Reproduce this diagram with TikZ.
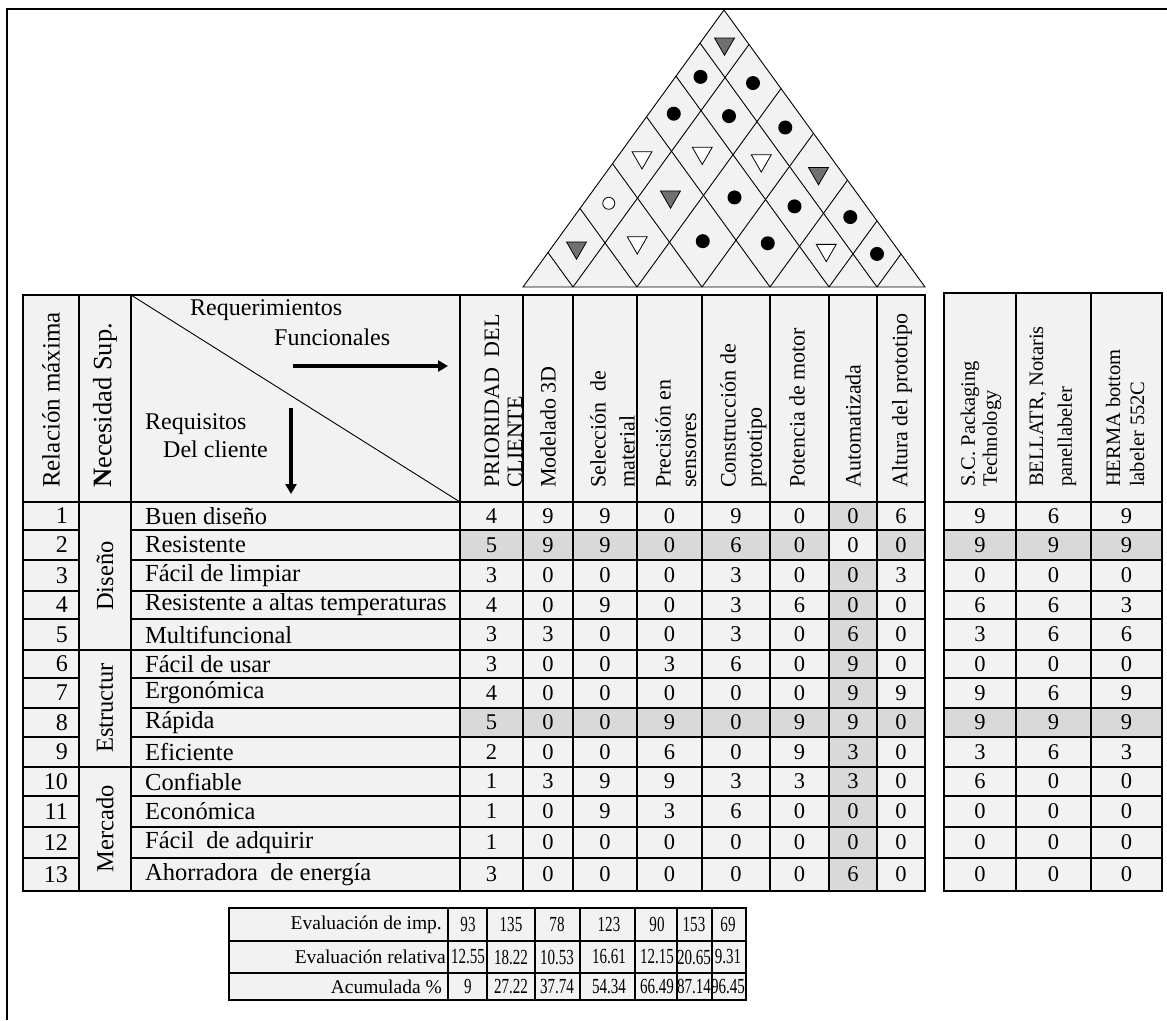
\documentclass[tikz,border=0pt]{standalone}
\usepackage{fontspec}
\setmainfont{Liberation Serif}
\newfontfamily\narrowserif[FakeStretch=0.7]{Liberation Serif}
\usepackage{tikz}
\usetikzlibrary{arrows.meta,shapes.geometric}
\definecolor{cellgray}{RGB}{242,242,242}
\definecolor{markgray}{RGB}{217,217,217}
\definecolor{roofgray}{RGB}{112,112,112}
\def\rowlines{{502,530,560,591,619,650,678,708,737,767,796,827,858,891}}
\def\colmids{{491.5,548,605,669.5,736,799.5,853,901,980,1053.5,1126.5}}
\def\roofmids{{548,605,669.5,736,799.5,853,901}}

\begin{document}
\begin{tikzpicture}[x=1pt, y=-1pt,
    tableline/.style={line width=1.2pt},
    thickline/.style={line width=2.4pt},
    roofline/.style={line width=0.9pt},
    cellnum/.style={font=\fontsize{22.5}{24}\selectfont, inner sep=0pt},
    rownum/.style={font=\fontsize{24}{26}\selectfont, anchor=east, inner sep=0pt},
    rowtext/.style={font=\fontsize{24.5}{26}\selectfont, anchor=west, inner sep=0pt},
    cornertext/.style={font=\fontsize{24}{26}\selectfont, anchor=base west, inner sep=0pt},
    headtext/.style={font=\fontsize{22}{24}\selectfont, rotate=90, anchor=west, inner sep=0pt},
    comptext/.style={font=\fontsize{20.5}{22}\selectfont, rotate=90, anchor=west, inner sep=0pt},
    sidetext/.style={font=\fontsize{24.5}{26}\selectfont, rotate=90, inner sep=0pt},
    evaltext/.style={font=\fontsize{19.5}{21}\selectfont, anchor=east, inner sep=0pt},
    evalnum/.style={font=\narrowserif\fontsize{21.5}{23}\selectfont, inner sep=0pt},
    dotmark/.style={circle, fill=black, minimum size=14pt, inner sep=0pt},
    ringmark/.style={circle, draw=black, fill=white, line width=0.8pt, minimum size=12pt, inner sep=0pt},
    opentri/.style={regular polygon, regular polygon sides=3, shape border rotate=180,
                    draw=black, fill=white, line width=0.8pt, minimum size=23pt, inner sep=0pt},
    graytri/.style={opentri, fill=roofgray},
    bigarrow/.style={line width=3.5pt, -{Triangle[length=10pt,width=11pt]}}]

    \useasboundingbox (0,0) rectangle (1167,1020);
    \draw[line width=2.2pt] (7,1020) -- (7,9) -- (1167,9);

    \fill[cellgray] (523,287) -- (724,10) -- (925,287) -- cycle;
    \foreach \b in {573,637,702,770,829,877}{
        \draw[roofline] (\b,287) -- ({(\b+925)/2},{287-1.378*(925-\b)/2});
        \draw[roofline] (\b,287) -- ({(\b+523)/2},{287-1.378*(\b-523)/2});
    }
    \draw[roofline] (523,287) -- (724,10) -- (925,287) -- cycle;
    \foreach \a/\b/\kind in {1/2/graytri, 1/3/ringmark, 1/4/opentri, 1/5/dotmark, 1/6/dotmark, 1/7/graytri,
                             2/3/opentri, 2/4/graytri, 2/5/opentri, 2/6/dotmark, 2/7/dotmark,
                             3/4/dotmark, 3/5/dotmark, 3/6/opentri, 3/7/dotmark,
                             4/5/dotmark, 4/6/dotmark, 4/7/graytri,
                             5/6/opentri, 5/7/dotmark, 6/7/dotmark}{
        \pgfmathsetmacro\ma{\roofmids[\a-1]}
        \pgfmathsetmacro\mb{\roofmids[\b-1]}
        \node[\kind] (roof-\a-\b) at ({(\ma+\mb)/2},{287-1.378*(\mb-\ma)/2}) {};
    }

    \fill[cellgray] (23,295) rectangle (925,891);
    \fill[cellgray] (944,293) rectangle (1162,891);
    \fill[markgray] (829,560) rectangle (877,891);
    \fill[markgray] (829,502) rectangle (877,530);
    \fill[markgray] (460,530) rectangle (829,560);
    \fill[markgray] (877,530) rectangle (925,560);
    \fill[markgray] (460,708) rectangle (925,737);
    \fill[markgray] (944,530) rectangle (1162,560);
    \fill[markgray] (944,708) rectangle (1162,737);
    \fill[cellgray] (229,908) rectangle (746,1000);

    \draw[tableline] (23,295) rectangle (925,891);
    \foreach \x in {79,131,460,523,573,637,702,770,829,877}
        \draw[tableline] (\x,295) -- (\x,891);
    \draw[tableline] (23,502) -- (925,502);
    \foreach \y in {530,560,591,619,678,708,737,858}{
        \draw[tableline] (23,\y) -- (79,\y);
        \draw[tableline] (131,\y) -- (925,\y);
    }
    \foreach \y in {650,767}
        \draw[tableline] (23,\y) -- (925,\y);
    \foreach \y in {796,827}{
        \draw[thickline] (23,\y) -- (79,\y);
        \draw[thickline] (131,\y) -- (925,\y);
    }
    \draw[roofline] (131,295) -- (460,502);

    \draw[tableline] (944,293) rectangle (1162,891);
    \foreach \x in {1016,1091}
        \draw[tableline] (\x,293) -- (\x,891);
    \foreach \y in {502,530,560,591,619,650,678,708,737,796,827,858}
        \draw[tableline] (944,\y) -- (1162,\y);
    \draw[thickline] (944,767) -- (1162,767);

    \draw[tableline] (229,908) rectangle (746,1000);
    \foreach \y in {941,973}
        \draw[tableline] (229,\y) -- (746,\y);
    \foreach \x in {448,487,535,580,635,677,712}
        \draw[tableline] (\x,908) -- (\x,1000);

    \node[sidetext, anchor=west, font=\fontsize{25}{27}\selectfont] (hdr-rel) at (51,488) {Relación máxima};
    \node[sidetext, anchor=west, font=\fontsize{26.5}{28}\selectfont] (hdr-nec) at (105,488) {{\bfseries N}ecesidad Sup.};
    \node[cornertext] (hdr-req) at (190,315) {Requerimientos};
    \node[cornertext] (hdr-fun) at (274,345) {Funcionales};
    \node[cornertext] (hdr-rqs) at (145,429) {Requisitos};
    \node[cornertext] (hdr-del) at (163,457) {Del cliente};
    \coordinate (arr-r-start) at (293,366);
    \coordinate (arr-r-end) at (448,366);
    \coordinate (arr-d-start) at (291,408);
    \coordinate (arr-d-end) at (291,494);
    \draw[bigarrow] (arr-r-start) -- (arr-r-end);
    \draw[bigarrow] (arr-d-start) -- (arr-d-end);

    \foreach \x/\t [count=\i] in {492/{PRIORIDAD\ \ DEL}, 515/CLIENTE, 548/Modelado 3D, 598/Selección\ \ de,
                                 627/material, 663/Precisión en, 691/sensores, 728/Construcción de,
                                 757/prototipo, 797/Potencia de motor, 853/Automatizada, 902/Altura del prototipo}
        \node[headtext] (head-\i) at (\x,488) {\t};
    \foreach \x/\t [count=\i] in {970/S.C. Packaging, 992/Technology, 1038/{BELLATR, Notaris},
                                 1067/panellabeler, 1113/HERMA bottom, 1137/labeler 552C}
        \node[comptext] (comp-\i) at (\x,487) {\t};

    \foreach \t [count=\r] in {Buen diseño, Resistente, Fácil de limpiar, Resistente a altas temperaturas,
                               Multifuncional, Fácil de usar, Ergonómica, Rápida, Eficiente, Confiable,
                               Económica, Fácil\ \ de adquirir, Ahorradora\ \ de energía}{
        \pgfmathsetmacro\ytop{\rowlines[\r-1]}
        \pgfmathsetmacro\ybot{\rowlines[\r]}
        \node[rownum] (num-\r) at (68,{(\ytop+\ybot)/2}) {\r};
        \node[rowtext] (need-\r) at (145,{(\ytop+\ybot)/2}) {\t};
    }
    \node[sidetext] (grp-dis) at (105,576) {Diseño};
    \node[sidetext] (grp-est) at (105,708) {Estructur};
    \node[sidetext] (grp-mer) at (105,829) {Mercado};

    \foreach \vals [count=\r] in {{4,9,9,0,9,0,0,6,9,6,9}, {5,9,9,0,6,0,0,0,9,9,9},
                                  {3,0,0,0,3,0,0,3,0,0,0}, {4,0,9,0,3,6,0,0,6,6,3},
                                  {3,3,0,0,3,0,6,0,3,6,6}, {3,0,0,3,6,0,9,0,0,0,0},
                                  {4,0,0,0,0,0,9,9,9,6,9}, {5,0,0,9,0,9,9,0,9,9,9},
                                  {2,0,0,6,0,9,3,0,3,6,3}, {1,3,9,9,3,3,3,0,6,0,0},
                                  {1,0,9,3,6,0,0,0,0,0,0}, {1,0,0,0,0,0,0,0,0,0,0},
                                  {3,0,0,0,0,0,6,0,0,0,0}}{
        \pgfmathsetmacro\ytop{\rowlines[\r-1]}
        \pgfmathsetmacro\ybot{\rowlines[\r]}
        \foreach \v [count=\c] in \vals {
            \pgfmathsetmacro\xc{\colmids[\c-1]}
            \node[cellnum] (val-\r-\c) at (\xc,{(\ytop+\ybot)/2}) {\v};
        }
    }

    \node[evaltext] (eval-imp) at (442,924.5) {Evaluación de imp.};
    \node[evaltext] (eval-rel) at (446,957) {Evaluación relativa};
    \node[evaltext] (eval-acu) at (442,986.5) {Acumulada \%};
    \foreach \vals/\yc [count=\r] in {{93,135,78,123,90,153,69}/924.5,
                                      {12.55,18.22,10.53,16.61,12.15,20.65,9.31}/957,
                                      {9,27.22,37.74,54.34,66.49,87.14,96.45}/986.5}{
        \foreach \v [count=\c] in \vals {
            \pgfmathsetmacro\xe{{468,511,557,609,657,694,728}[\c-1]}
            \node[evalnum] (eval-\r-\c) at (\xe,\yc) {\v};
        }
    }
\end{tikzpicture}
\end{document}
